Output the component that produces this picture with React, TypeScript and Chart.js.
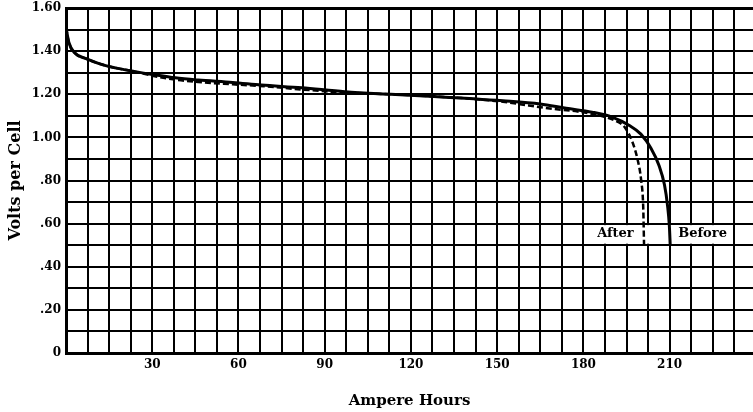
import React, { useEffect, useRef } from "react";
import { Chart, registerables } from "chart.js";

Chart.register(...registerables);

// "Before" curve (solid)
const xBefore = [0, 1, 3, 7, 12, 18, 24, 30, 38, 46, 58, 68, 82, 97, 113, 128, 152, 165, 174, 183, 190, 196, 200, 203.5, 206.3, 208.2, 209.3, 209.9, 210.2];
const yBefore = [1.51, 1.44, 1.392, 1.365, 1.34, 1.32, 1.305, 1.292, 1.276, 1.266, 1.255, 1.243, 1.23, 1.212, 1.2, 1.19, 1.17, 1.155, 1.135, 1.117, 1.094, 1.055, 1.015, 0.95, 0.87, 0.78, 0.68, 0.59, 0.5];

// "After" curve (dashed)
const xAfter = [0, 1, 3, 7, 12, 18, 24, 30, 38, 46, 58, 70, 82, 97, 113, 128, 140, 152, 161, 169, 178, 186, 191, 194.5, 197, 198.8, 200.1, 200.8, 201.1];
const yAfter = [1.51, 1.44, 1.392, 1.365, 1.34, 1.32, 1.305, 1.286, 1.268, 1.257, 1.246, 1.236, 1.222, 1.208, 1.2, 1.19, 1.18, 1.165, 1.148, 1.133, 1.12, 1.1, 1.078, 1.045, 0.98, 0.9, 0.8, 0.68, 0.5];

// x grid every 7.5 Ampere Hours, labels every 30
const xGrid = [0, 7.5, 15, 22.5, 30, 37.5, 45, 52.5, 60, 67.5, 75, 82.5, 90, 97.5, 105, 112.5, 120, 127.5, 135, 142.5, 150, 157.5, 165, 172.5, 180, 187.5, 195, 202.5, 210, 217.5, 225, 232.5];
const xLabeled = [30, 60, 90, 120, 150, 180, 210];
const yLabeled = [0, 0.2, 0.4, 0.6, 0.8, 1.0, 1.2, 1.4, 1.6];

const seriesNames = ["Before", "After"];
const xTitle = "Ampere Hours";
const yTitle = "Volts per Cell";

const FONT = "'DejaVu Serif', serif";

const labelPlugin = {
  id: "curveLabels",
  beforeDatasetsDraw(chart: any) {
    const { ctx, scales } = chart;
    const x = scales.x;
    const y = scales.y;
    ctx.save();
    ctx.fillStyle = "#ffffff";
    const l = x.getPixelForValue(181) + 2;
    const r = x.getPixelForValue(232) - 1;
    const t = y.getPixelForValue(0.6) + 1.5;
    const b = y.getPixelForValue(0.5) - 1.5;
    ctx.fillRect(l, t, r - l, b - t);
    ctx.fillStyle = "#000000";
    ctx.font = "bold 13px " + FONT;
    ctx.textBaseline = "middle";
    const ty = y.getPixelForValue(0.553);
    ctx.textAlign = "right";
    ctx.fillText(seriesNames[1], x.getPixelForValue(197.5), ty);
    ctx.textAlign = "left";
    ctx.fillText(seriesNames[0], x.getPixelForValue(213), ty);
    ctx.restore();
  },
};

export default function App() {
  const ref = useRef<HTMLCanvasElement>(null);
  useEffect(() => {
    if (!ref.current) return;
    const chart = new Chart(ref.current, {
      type: "line",
      data: {
        datasets: [
          {
            label: seriesNames[0],
            data: xBefore.map((v, i) => ({ x: v, y: yBefore[i] })),
            borderColor: "#000",
            borderWidth: 3,
            pointRadius: 0,
            cubicInterpolationMode: "monotone",
            fill: false,
          },
          {
            label: seriesNames[1],
            data: xAfter.map((v, i) => ({ x: v, y: yAfter[i] })),
            borderColor: "#000",
            borderWidth: 2.5,
            borderDash: [6, 3],
            pointRadius: 0,
            cubicInterpolationMode: "monotone",
            fill: false,
          },
        ],
      },
      options: {
        animation: false,
        responsive: false,
        maintainAspectRatio: false,
        layout: { padding: { left: 0, right: 0, top: 8, bottom: 0 } },
        plugins: { legend: { display: false }, tooltip: { enabled: false } },
        scales: {
          x: {
            type: "linear",
            min: 0,
            max: 239,
            afterBuildTicks: (s: any) => {
              s.ticks = xGrid.map((v) => ({ value: v }));
            },
            afterFit: (s: any) => {
              s.height = 59;
              s.paddingLeft = 0;
              s.paddingRight = 0;
            },
            border: { display: true, color: "#000", width: 3 },
            grid: { color: "#000", lineWidth: 2, drawTicks: false },
            ticks: {
              autoSkip: false,
              maxRotation: 0,
              padding: 5,
              color: "#000",
              font: { family: FONT, size: 12, weight: "bold" },
              callback: (value: any) => {
                const v = Math.round(Number(value) * 10) / 10;
                return xLabeled.includes(v) ? String(v) : "";
              },
            },
            title: {
              display: true,
              text: xTitle,
              color: "#000",
              font: { family: FONT, size: 15, weight: "bold" },
              padding: { top: 4, bottom: 2 },
            },
          },
          y: {
            min: 0,
            max: 1.6,
            afterFit: (s: any) => {
              s.width = 66;
              s.paddingTop = 0;
              s.paddingBottom = 0;
            },
            border: { display: true, color: "#000", width: 3 },
            grid: {
              color: "#000",
              lineWidth: (c: any) => (c.tick && Math.abs(c.tick.value - 1.6) < 1e-6 ? 3 : 2),
              drawTicks: false,
            },
            ticks: {
              stepSize: 0.1,
              autoSkip: false,
              padding: 5,
              color: "#000",
              font: { family: FONT, size: 12, weight: "bold" },
              callback: (value: any) => {
                const v = Math.round(Number(value) * 10) / 10;
                if (!yLabeled.some((a) => Math.abs(a - v) < 1e-6)) return "";
                if (v === 0) return "0";
                if (v >= 1) return v.toFixed(2);
                return v.toFixed(2).slice(1);
              },
            },
            title: {
              display: true,
              text: yTitle,
              color: "#000",
              font: { family: FONT, size: 16, weight: "bold" },
              padding: { top: 6, bottom: 4 },
            },
          },
        },
      },
      plugins: [labelPlugin],
    } as any);
    return () => chart.destroy();
  }, []);
  return (
    <div style={{ position: "absolute", left: 0, top: 0, width: 753, height: 412, background: "#fff" }}>
      <canvas ref={ref} width={753} height={412} style={{ display: "block" }} />
    </div>
  );
}
